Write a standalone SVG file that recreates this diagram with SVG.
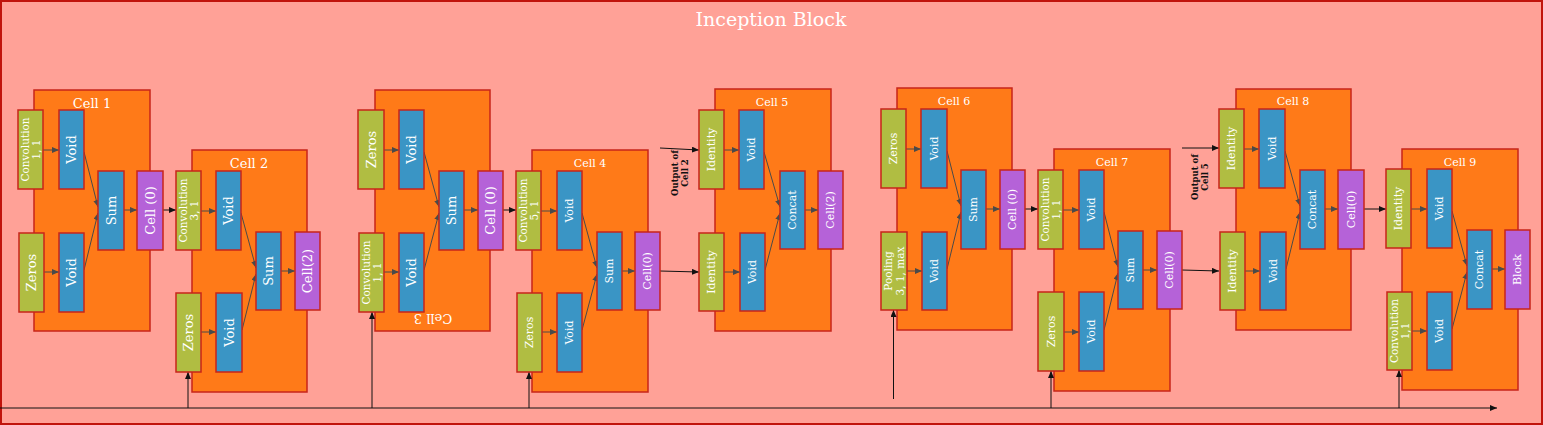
<svg xmlns="http://www.w3.org/2000/svg" width="1543" height="425" viewBox="0 0 1543 425">
<defs>
<marker id="ag" markerUnits="userSpaceOnUse" markerWidth="7" markerHeight="6" refX="7" refY="3" orient="auto"><path d="M0,0 L7,3 L0,6 z" fill="#4a4a4a"/></marker>
<marker id="ab" markerUnits="userSpaceOnUse" markerWidth="7" markerHeight="6" refX="7" refY="3" orient="auto"><path d="M0,0 L7,3 L0,6 z" fill="#111"/></marker>
<style>
.bg{fill:#FFA197;stroke:#C0140C;stroke-width:2}
.cell{fill:#FF7A18;stroke:#C8251A;stroke-width:1.5}
.g{fill:#B0BD42;stroke:#C8251A;stroke-width:1.5}
.b{fill:#3A95C5;stroke:#C8251A;stroke-width:1.5}
.p{fill:#B562D8;stroke:#C8251A;stroke-width:1.5}
text{font-family:"DejaVu Serif","Liberation Serif",serif;fill:#fff;text-anchor:middle;dominant-baseline:central}
.L{font-size:13px}
.S{font-size:11px}
.V{font-size:10.5px}
.T{font-size:19px}
.C1{font-size:13px}
.C2{font-size:11px}
.o{font-size:8.5px;fill:#111;font-weight:bold}
.ci{stroke:#4a4a4a;stroke-width:1;fill:none;marker-end:url(#ag)}
.cx{stroke:#111;stroke-width:1;fill:none;marker-end:url(#ab)}
</style>
</defs>
<rect class="bg" x="1" y="1" width="1541" height="423"/>
<text class="T" x="771" y="19">Inception Block</text>

<g id="cell1">
<rect class="cell" x="34" y="90" width="116" height="241"/>
<text class="C1" x="92" y="103">Cell 1</text>
</g>
<g id="cell2">
<rect class="cell" x="192" y="150" width="115" height="242"/>
<text class="C1" x="249" y="163">Cell 2</text>
</g>
<g id="cell3">
<rect class="cell" x="375" y="90" width="115" height="241"/>
<text class="C1" transform="rotate(180 433 318)" x="433" y="318">Cell 3</text>
</g>
<g id="cell4">
<rect class="cell" x="532" y="150" width="116" height="242"/>
<text class="C2" x="590" y="163">Cell 4</text>
</g>
<g id="cell5">
<rect class="cell" x="715" y="89" width="116" height="242"/>
<text class="C2" x="772" y="102">Cell 5</text>
</g>
<g id="cell6">
<rect class="cell" x="897" y="88" width="115" height="242"/>
<text class="C2" x="954" y="101">Cell 6</text>
</g>
<g id="cell7">
<rect class="cell" x="1054" y="149" width="116" height="242"/>
<text class="C2" x="1112" y="162">Cell 7</text>
</g>
<g id="cell8">
<rect class="cell" x="1236" y="89" width="115" height="241"/>
<text class="C2" x="1293" y="101">Cell 8</text>
</g>
<g id="cell9">
<rect class="cell" x="1402" y="149" width="116" height="241"/>
<text class="C2" x="1460" y="162">Cell 9</text>
</g>

<g id="connectors">
<path class="cx" d="M0,408 H1497"/>
<path class="cx" d="M188,408 V372"/>
<path class="cx" d="M372,408 V312"/>
<path class="cx" d="M529,408 V372"/>
<path class="cx" d="M893.5,399 V310"/>
<path class="cx" d="M1051,408 V371"/>
<path class="cx" d="M1399,408 V370"/>

<path class="ci" d="M43,150 H59"/><path class="ci" d="M44,272 H59"/>
<path class="ci" d="M84,152 L98,207"/><path class="ci" d="M84,270 L98,213"/>
<path class="ci" d="M124,210 H137"/>
<path class="cx" d="M163,210 H176"/>

<path class="ci" d="M201,211 H216"/><path class="ci" d="M201,332 H216"/>
<path class="ci" d="M241,213 L256,268"/><path class="ci" d="M242,330 L256,274"/>
<path class="ci" d="M281,271 H295"/>

<path class="ci" d="M384,150 H399"/><path class="ci" d="M384,272 H399"/>
<path class="ci" d="M424,152 L439,207"/><path class="ci" d="M424,270 L439,213"/>
<path class="ci" d="M464,210 H478"/>
<path class="cx" d="M503,210 H516"/>

<path class="ci" d="M541,211 H557"/><path class="ci" d="M542,332 H557"/>
<path class="ci" d="M582,213 L597,268"/><path class="ci" d="M582,330 L597,274"/>
<path class="ci" d="M622,271 H635"/>
<path class="cx" d="M660,271 L699,272"/>
<path class="cx" d="M660,148 L699,150"/>

<path class="ci" d="M724,150 H739"/><path class="ci" d="M724,272 H740"/>
<path class="ci" d="M764,152 L780,207"/><path class="ci" d="M765,270 L780,213"/>
<path class="ci" d="M805,210 H818"/>

<path class="ci" d="M906,149 H921"/><path class="ci" d="M907,271 H922"/>
<path class="ci" d="M947,151 L961,206"/><path class="ci" d="M947,269 L961,212"/>
<path class="ci" d="M986,209 H1000"/>
<path class="cx" d="M1025,209 H1038"/>

<path class="ci" d="M1063,210 H1079"/><path class="ci" d="M1064,332 H1079"/>
<path class="ci" d="M1104,212 L1118,267"/><path class="ci" d="M1104,330 L1118,273"/>
<path class="ci" d="M1143,270 H1157"/>
<path class="cx" d="M1182,270 L1219,271"/>
<path class="cx" d="M1182,148 H1219"/>

<path class="ci" d="M1244,149 H1259"/><path class="ci" d="M1245,271 H1260"/>
<path class="ci" d="M1285,151 L1300,206"/><path class="ci" d="M1286,269 L1300,212"/>
<path class="ci" d="M1325,209 H1338"/>
<path class="cx" d="M1364,209 H1386"/>

<path class="ci" d="M1411,209 H1427"/><path class="ci" d="M1412,331 H1427"/>
<path class="ci" d="M1452,211 L1467,266"/><path class="ci" d="M1452,329 L1467,272"/>
<path class="ci" d="M1492,269 H1505"/>
</g>

<g id="note_cell2"><text class="o" transform="rotate(-90 680 173)" x="680" y="173"><tspan x="680" dy="-0.55em">Output of</tspan><tspan x="680" dy="1.1em">Cell 2</tspan></text></g>
<g id="note_cell5"><text class="o" transform="rotate(-90 1200 177)" x="1200" y="177"><tspan x="1200" dy="-0.55em">Output of</tspan><tspan x="1200" dy="1.1em">Cell 5</tspan></text></g>

<!-- Cell 1 nodes -->
<g id="c1_conv"><rect class="g" x="18" y="110" width="25" height="79"/><text class="V" transform="rotate(-90 30.5 149.5)" x="30.5" y="149.5"><tspan x="30.5" dy="-0.55em">Convolution</tspan><tspan x="30.5" dy="1.1em">1, 1</tspan></text></g>
<g id="c1_zeros"><rect class="g" x="19" y="233" width="25" height="79"/><text class="L" transform="rotate(-90 31.5 272.5)" x="31.5" y="272.5">Zeros</text></g>
<g id="c1_void1"><rect class="b" x="59" y="110" width="25" height="79"/><text class="L" transform="rotate(-90 71.5 149.5)" x="71.5" y="149.5">Void</text></g>
<g id="c1_void2"><rect class="b" x="59" y="233" width="25" height="79"/><text class="L" transform="rotate(-90 71.5 272.5)" x="71.5" y="272.5">Void</text></g>
<g id="c1_sum"><rect class="b" x="98" y="171" width="26" height="79"/><text class="L" transform="rotate(-90 111 210.5)" x="111" y="210.5">Sum</text></g>
<g id="c1_out"><rect class="p" x="137" y="171" width="26" height="79"/><text class="L" transform="rotate(-90 150 210.5)" x="150" y="210.5">Cell (0)</text></g>

<!-- Cell 2 nodes -->
<g id="c2_conv"><rect class="g" x="176" y="171" width="25" height="79"/><text class="V" transform="rotate(-90 188.5 210.5)" x="188.5" y="210.5"><tspan x="188.5" dy="-0.55em">Convolution</tspan><tspan x="188.5" dy="1.1em">3, 1</tspan></text></g>
<g id="c2_zeros"><rect class="g" x="176" y="293" width="25" height="79"/><text class="L" transform="rotate(-90 188.5 332.5)" x="188.5" y="332.5">Zeros</text></g>
<g id="c2_void1"><rect class="b" x="216" y="171" width="25" height="79"/><text class="L" transform="rotate(-90 228.5 210.5)" x="228.5" y="210.5">Void</text></g>
<g id="c2_void2"><rect class="b" x="216" y="293" width="26" height="79"/><text class="L" transform="rotate(-90 229 332.5)" x="229" y="332.5">Void</text></g>
<g id="c2_sum"><rect class="b" x="256" y="232" width="25" height="78"/><text class="L" transform="rotate(-90 268.5 271)" x="268.5" y="271">Sum</text></g>
<g id="c2_out"><rect class="p" x="295" y="232" width="25" height="78"/><text class="L" transform="rotate(-90 307.5 271)" x="307.5" y="271">Cell(2)</text></g>

<!-- Cell 3 nodes -->
<g id="c3_zeros"><rect class="g" x="358" y="110" width="26" height="79"/><text class="L" transform="rotate(-90 371 149.5)" x="371" y="149.5">Zeros</text></g>
<g id="c3_conv"><rect class="g" x="359" y="233" width="25" height="79"/><text class="V" transform="rotate(-90 371.5 272.5)" x="371.5" y="272.5"><tspan x="371.5" dy="-0.55em">Convolution</tspan><tspan x="371.5" dy="1.1em">1, 1</tspan></text></g>
<g id="c3_void1"><rect class="b" x="399" y="110" width="25" height="79"/><text class="L" transform="rotate(-90 411.5 149.5)" x="411.5" y="149.5">Void</text></g>
<g id="c3_void2"><rect class="b" x="399" y="233" width="25" height="79"/><text class="L" transform="rotate(-90 411.5 272.5)" x="411.5" y="272.5">Void</text></g>
<g id="c3_sum"><rect class="b" x="439" y="171" width="25" height="79"/><text class="L" transform="rotate(-90 451.5 210.5)" x="451.5" y="210.5">Sum</text></g>
<g id="c3_out"><rect class="p" x="478" y="171" width="25" height="79"/><text class="L" transform="rotate(-90 490.5 210.5)" x="490.5" y="210.5">Cell (0)</text></g>

<!-- Cell 4 nodes -->
<g id="c4_conv"><rect class="g" x="516" y="171" width="25" height="79"/><text class="V" transform="rotate(-90 528.5 210.5)" x="528.5" y="210.5"><tspan x="528.5" dy="-0.55em">Convolution</tspan><tspan x="528.5" dy="1.1em">5, 1</tspan></text></g>
<g id="c4_zeros"><rect class="g" x="517" y="293" width="25" height="79"/><text class="S" transform="rotate(-90 529.5 332.5)" x="529.5" y="332.5">Zeros</text></g>
<g id="c4_void1"><rect class="b" x="557" y="171" width="25" height="79"/><text class="S" transform="rotate(-90 569.5 210.5)" x="569.5" y="210.5">Void</text></g>
<g id="c4_void2"><rect class="b" x="557" y="293" width="25" height="79"/><text class="S" transform="rotate(-90 569.5 332.5)" x="569.5" y="332.5">Void</text></g>
<g id="c4_sum"><rect class="b" x="597" y="232" width="25" height="78"/><text class="S" transform="rotate(-90 609.5 271)" x="609.5" y="271">Sum</text></g>
<g id="c4_out"><rect class="p" x="635" y="232" width="25" height="78"/><text class="S" transform="rotate(-90 647.5 271)" x="647.5" y="271">Cell(0)</text></g>

<!-- Cell 5 nodes -->
<g id="c5_id1"><rect class="g" x="699" y="110" width="25" height="79"/><text class="S" transform="rotate(-90 711.5 149.5)" x="711.5" y="149.5">Identity</text></g>
<g id="c5_id2"><rect class="g" x="699" y="233" width="25" height="78"/><text class="S" transform="rotate(-90 711.5 272)" x="711.5" y="272">Identity</text></g>
<g id="c5_void1"><rect class="b" x="739" y="110" width="25" height="79"/><text class="S" transform="rotate(-90 751.5 149.5)" x="751.5" y="149.5">Void</text></g>
<g id="c5_void2"><rect class="b" x="740" y="233" width="25" height="78"/><text class="S" transform="rotate(-90 752.5 272)" x="752.5" y="272">Void</text></g>
<g id="c5_concat"><rect class="b" x="780" y="171" width="25" height="78"/><text class="S" transform="rotate(-90 792.5 210)" x="792.5" y="210">Concat</text></g>
<g id="c5_out"><rect class="p" x="818" y="171" width="25" height="78"/><text class="S" transform="rotate(-90 830.5 210)" x="830.5" y="210">Cell(2)</text></g>

<!-- Cell 6 nodes -->
<g id="c6_zeros"><rect class="g" x="881" y="109" width="25" height="79"/><text class="S" transform="rotate(-90 893.5 148.5)" x="893.5" y="148.5">Zeros</text></g>
<g id="c6_pool"><rect class="g" x="881" y="232" width="26" height="78"/><text class="V" transform="rotate(-90 894 271)" x="894" y="271"><tspan x="894" dy="-0.55em">Pooling</tspan><tspan x="894" dy="1.1em">3, 1, max</tspan></text></g>
<g id="c6_void1"><rect class="b" x="921" y="109" width="26" height="79"/><text class="S" transform="rotate(-90 934 148.5)" x="934" y="148.5">Void</text></g>
<g id="c6_void2"><rect class="b" x="922" y="232" width="25" height="78"/><text class="S" transform="rotate(-90 934.5 271)" x="934.5" y="271">Void</text></g>
<g id="c6_sum"><rect class="b" x="961" y="170" width="25" height="79"/><text class="S" transform="rotate(-90 973.5 209.5)" x="973.5" y="209.5">Sum</text></g>
<g id="c6_out"><rect class="p" x="1000" y="170" width="25" height="79"/><text class="S" transform="rotate(-90 1012.5 209.5)" x="1012.5" y="209.5">Cell (0)</text></g>

<!-- Cell 7 nodes -->
<g id="c7_conv"><rect class="g" x="1038" y="170" width="25" height="79"/><text class="V" transform="rotate(-90 1050.5 209.5)" x="1050.5" y="209.5"><tspan x="1050.5" dy="-0.55em">Convolution</tspan><tspan x="1050.5" dy="1.1em">1, 1</tspan></text></g>
<g id="c7_zeros"><rect class="g" x="1038" y="292" width="26" height="79"/><text class="S" transform="rotate(-90 1051 331.5)" x="1051" y="331.5">Zeros</text></g>
<g id="c7_void1"><rect class="b" x="1079" y="170" width="25" height="79"/><text class="S" transform="rotate(-90 1091.5 209.5)" x="1091.5" y="209.5">Void</text></g>
<g id="c7_void2"><rect class="b" x="1079" y="292" width="25" height="79"/><text class="S" transform="rotate(-90 1091.5 331.5)" x="1091.5" y="331.5">Void</text></g>
<g id="c7_sum"><rect class="b" x="1118" y="231" width="25" height="78"/><text class="S" transform="rotate(-90 1130.5 270)" x="1130.5" y="270">Sum</text></g>
<g id="c7_out"><rect class="p" x="1157" y="231" width="25" height="78"/><text class="S" transform="rotate(-90 1169.5 270)" x="1169.5" y="270">Cell(0)</text></g>

<!-- Cell 8 nodes -->
<g id="c8_id1"><rect class="g" x="1219" y="109" width="25" height="79"/><text class="S" transform="rotate(-90 1231.5 148.5)" x="1231.5" y="148.5">Identity</text></g>
<g id="c8_id2"><rect class="g" x="1220" y="232" width="25" height="78"/><text class="S" transform="rotate(-90 1232.5 271)" x="1232.5" y="271">Identity</text></g>
<g id="c8_void1"><rect class="b" x="1259" y="109" width="26" height="79"/><text class="S" transform="rotate(-90 1272 148.5)" x="1272" y="148.5">Void</text></g>
<g id="c8_void2"><rect class="b" x="1260" y="232" width="26" height="78"/><text class="S" transform="rotate(-90 1273 271)" x="1273" y="271">Void</text></g>
<g id="c8_concat"><rect class="b" x="1300" y="170" width="25" height="79"/><text class="S" transform="rotate(-90 1312.5 209.5)" x="1312.5" y="209.5">Concat</text></g>
<g id="c8_out"><rect class="p" x="1338" y="170" width="26" height="79"/><text class="S" transform="rotate(-90 1351 209.5)" x="1351" y="209.5">Cell(0)</text></g>

<!-- Cell 9 nodes -->
<g id="c9_id"><rect class="g" x="1386" y="169" width="25" height="79"/><text class="S" transform="rotate(-90 1398.5 208.5)" x="1398.5" y="208.5">Identity</text></g>
<g id="c9_conv"><rect class="g" x="1387" y="292" width="25" height="78"/><text class="V" transform="rotate(-90 1399.5 331)" x="1399.5" y="331"><tspan x="1399.5" dy="-0.55em">Convolution</tspan><tspan x="1399.5" dy="1.1em">1,1</tspan></text></g>
<g id="c9_void1"><rect class="b" x="1427" y="169" width="25" height="79"/><text class="S" transform="rotate(-90 1439.5 208.5)" x="1439.5" y="208.5">Void</text></g>
<g id="c9_void2"><rect class="b" x="1427" y="292" width="25" height="78"/><text class="S" transform="rotate(-90 1439.5 331)" x="1439.5" y="331">Void</text></g>
<g id="c9_concat"><rect class="b" x="1467" y="230" width="25" height="79"/><text class="S" transform="rotate(-90 1479.5 269.5)" x="1479.5" y="269.5">Concat</text></g>
<g id="c9_block"><rect class="p" x="1505" y="230" width="25" height="79"/><text class="S" transform="rotate(-90 1517.5 269.5)" x="1517.5" y="269.5">Block</text></g>
</svg>
